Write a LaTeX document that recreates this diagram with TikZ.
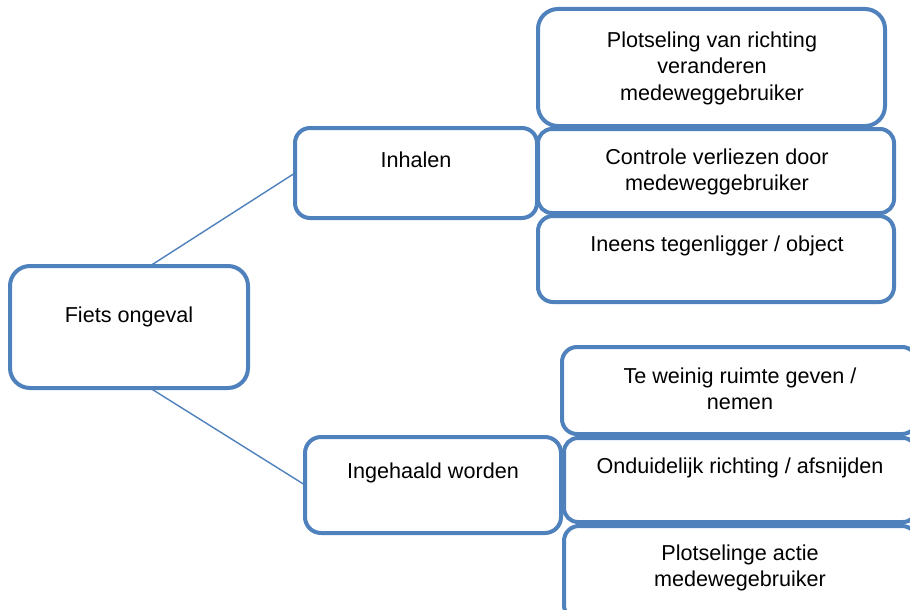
\documentclass[tikz,border=0pt]{standalone}
\usepackage{fontspec}
\setmainfont{Liberation Sans}
\definecolor{smblue}{HTML}{4F81BD}
\begin{document}
\begin{tikzpicture}[x=1pt,y=-1pt,
  box/.style={draw=smblue, line width=4pt, fill=white, rectangle, inner sep=0pt, outer sep=0pt},
  txt/.style={inner sep=0pt, align=center, font=\fontsize{21.6}{26.5}\selectfont, text=black},
  link/.style={draw=smblue, line width=1.4pt}]
\useasboundingbox (0,0) rectangle (910,610);
\clip (0,0) rectangle (910,610);
\fill[white] (0,0) rectangle (910,610);
% boxes
\node[box, minimum width=238pt, minimum height=122pt, rounded corners=20pt] (fiets) at (129,327) {};
\node[box, minimum width=242pt, minimum height=90pt, rounded corners=15pt] (inhalen) at (416,173) {};
\node[box, minimum width=256pt, minimum height=96pt, rounded corners=16pt] (ingehaald) at (433,485) {};
\node[box, minimum width=347pt, minimum height=117pt, rounded corners=20pt] (b1) at (711.5,67.5) {};
\node[box, minimum width=356pt, minimum height=84pt, rounded corners=14pt] (b2) at (716,171) {};
\node[box, minimum width=356pt, minimum height=86pt, rounded corners=15pt] (b3) at (716,259) {};
\node[box, minimum width=355pt, minimum height=87pt, rounded corners=15pt] (b4) at (739.5,390.5) {};
\node[box, minimum width=353pt, minimum height=84pt, rounded corners=14pt] (b5) at (740.5,480) {};
\node[box, minimum width=353pt, minimum height=94pt, rounded corners=15pt] (b6) at (740.5,573) {};
% connectors
\coordinate (fietsTop) at (150,266);
\coordinate (fietsBot) at (150,388);
\draw[link] (fietsTop) -- (inhalen.west);
\draw[link] (fietsBot) -- (ingehaald.west);
% texts
\node[txt] (tfiets) at (129,317) {Fiets ongeval};
\node[txt] (tinhalen) at (416,160) {Inhalen};
\node[txt] (tingehaald) at (433,473) {Ingehaald worden};
\node[txt] (tb1) at (712,68) {Plotseling van richting\\veranderen\\medeweggebruiker};
\node[txt] (tb2) at (717,172) {Controle verliezen door\\medeweggebruiker};
\node[txt] (tb3) at (717,246) {Ineens tegenligger / object};
\node[txt] (tb4) at (740,389) {Te weinig ruimte geven /\\nemen};
\node[txt] (tb5) at (740,468) {Onduidelijk richting / afsnijden};
\node[txt] (tb6) at (740,568) {Plotselinge actie\\medewegebruiker};
\end{tikzpicture}
\end{document}
